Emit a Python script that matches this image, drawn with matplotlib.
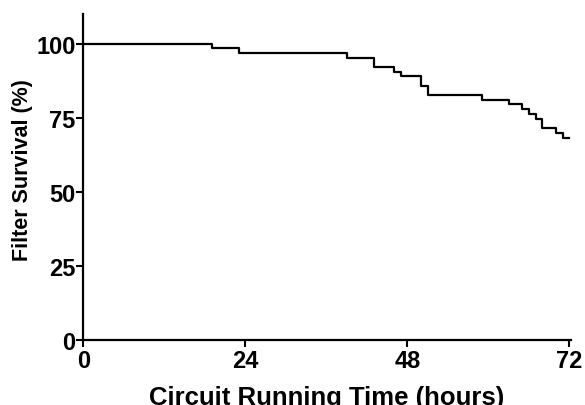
import matplotlib
matplotlib.use("Agg")
import matplotlib.pyplot as plt

# Kaplan-Meier style filter survival
event_times = [0, 19, 23, 39, 43, 46, 47, 50, 51, 59, 63, 65, 66, 67, 68, 70, 71]
survival = [100, 98.4, 96.9, 95.3, 92.1, 90.6, 89.0, 85.8, 82.6, 81.1, 79.5,
            77.9, 76.3, 74.7, 71.5, 69.9, 68.3]
end_time = 72

x_ticks = [0, 24, 48, 72]
y_ticks = [0, 25, 50, 75, 100]

plt.rcParams['font.family'] = ['Liberation Sans', 'DejaVu Sans']
plt.rcParams['font.weight'] = 'bold'

fig = plt.figure(figsize=(5.85, 4.06), dpi=100)
ax = fig.add_axes([0.1424, 0.1608, 0.833, 0.802])

xs = event_times + [end_time]
ys = survival + [survival[-1]]
ax.step(xs, ys, where='post', color='black', linewidth=1.6)

ax.set_xlim(0, 72.2)
ax.set_ylim(0, 110)
ax.set_xticks(x_ticks)
ax.set_yticks(y_ticks)
ax.tick_params(direction='out', length=5, width=1.5, labelsize=17)
ax.tick_params(axis='x', pad=2)
ax.tick_params(axis='y', pad=0.5)
for lab in ax.get_xticklabels() + ax.get_yticklabels():
    lab.set_fontweight('bold')

for side in ['top', 'right']:
    ax.spines[side].set_visible(False)
for side in ['left', 'bottom']:
    ax.spines[side].set_linewidth(1.6)

# the reference crops the bottom of the x label at the image edge
ax.set_xlabel('Circuit Running Time (hours)', fontsize=18.5, fontweight='bold')
ax.xaxis.set_label_coords(0.5, -0.139)
ax.set_ylabel('Filter Survival (%)', fontsize=15.5, fontweight='bold')
ax.yaxis.set_label_coords(-0.104, 0.523)

fig.savefig('out.png', dpi=100)
